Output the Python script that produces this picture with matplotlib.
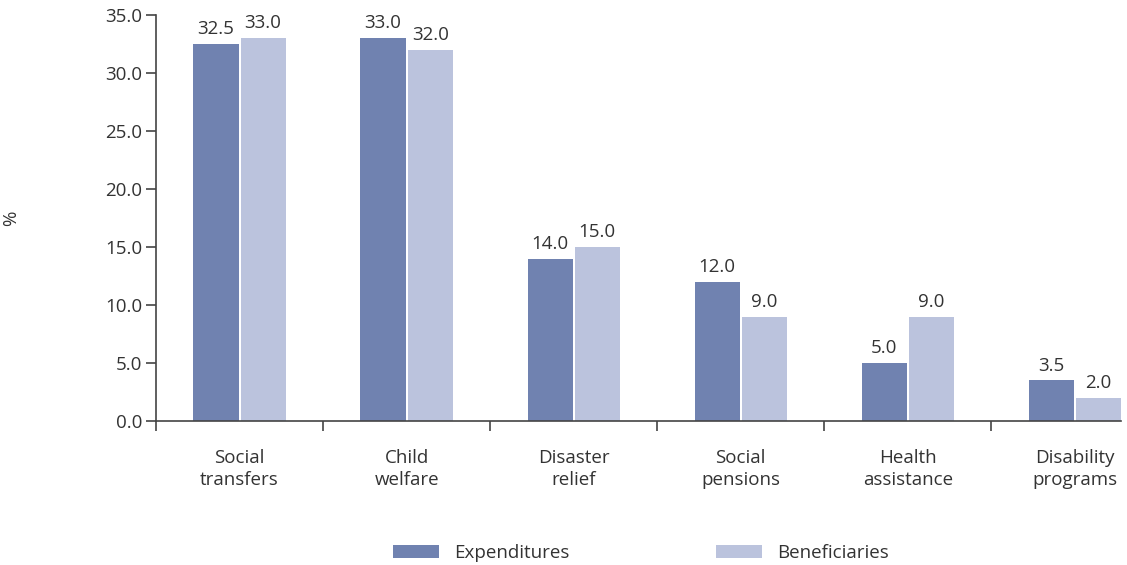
import matplotlib.pyplot as plt
import numpy as np

plt.rcParams['font.family'] = ['Open Sans', 'DejaVu Sans']

categories = ['Social\ntransfers', 'Child\nwelfare', 'Disaster\nrelief',
              'Social\npensions', 'Health\nassistance', 'Disability\nprograms']
expenditures = [32.5, 33.0, 14.0, 12.0, 5.0, 3.5]
beneficiaries = [33.0, 32.0, 15.0, 9.0, 9.0, 2.0]

dark = '#7082b0'
light = '#bbc3dd'
txt = '#333333'
fs = 13.5

fig = plt.figure(figsize=(11.27, 5.65), dpi=100)
ax = fig.add_axes([156 / 1127, 144 / 565, 965 / 1127, 406 / 565])

x = np.arange(len(categories))
w = 0.27
off = 0.141
b1 = ax.bar(x - off, expenditures, w, color=dark, label='Expenditures')
b2 = ax.bar(x + off, beneficiaries, w, color=light, label='Beneficiaries')

for bars, vals in [(b1, expenditures), (b2, beneficiaries)]:
    for b, v in zip(bars, vals):
        ax.text(b.get_x() + b.get_width() / 2, v + 0.5, '%.1f' % v,
                ha='center', va='bottom', fontsize=fs, color=txt)

ax.set_xlim(-0.5, len(categories) - 1 + off + w / 2)
ax.set_ylim(0, 35)
ax.set_yticks(np.arange(0, 36, 5))
ax.set_yticklabels(['%.1f' % v for v in np.arange(0, 36, 5)])

ax.set_xticks(np.arange(-0.5, len(categories) - 0.5, 1))
ax.set_xticklabels([])
ax.set_xticks(x, minor=True)
ax.set_xticklabels(categories, minor=True, fontsize=fs, color=txt, linespacing=1.3)
ax.tick_params(axis='x', which='minor', length=0, pad=20)
ax.tick_params(axis='x', which='major', length=7, width=1.2, color='#444444', direction='out')
ax.tick_params(axis='y', length=7, width=1.2, color='#444444', labelsize=fs,
               labelcolor=txt, pad=3)

for s in ['top', 'right']:
    ax.spines[s].set_visible(False)
for s in ['left', 'bottom']:
    ax.spines[s].set_color('#444444')
    ax.spines[s].set_linewidth(1.2)

ax.set_ylabel('%', fontsize=fs, color=txt)
ax.yaxis.set_label_coords(-0.141, 0.5)

fig.legend(handles=[b1, b2], loc='center', bbox_to_anchor=(641 / 1127, 12 / 565),
           ncol=2, frameon=False, fontsize=fs, handlelength=2.45, handleheight=0.72,
           handletextpad=0.8, columnspacing=7.8, labelcolor=txt)

fig.savefig('out.png', dpi=100)
